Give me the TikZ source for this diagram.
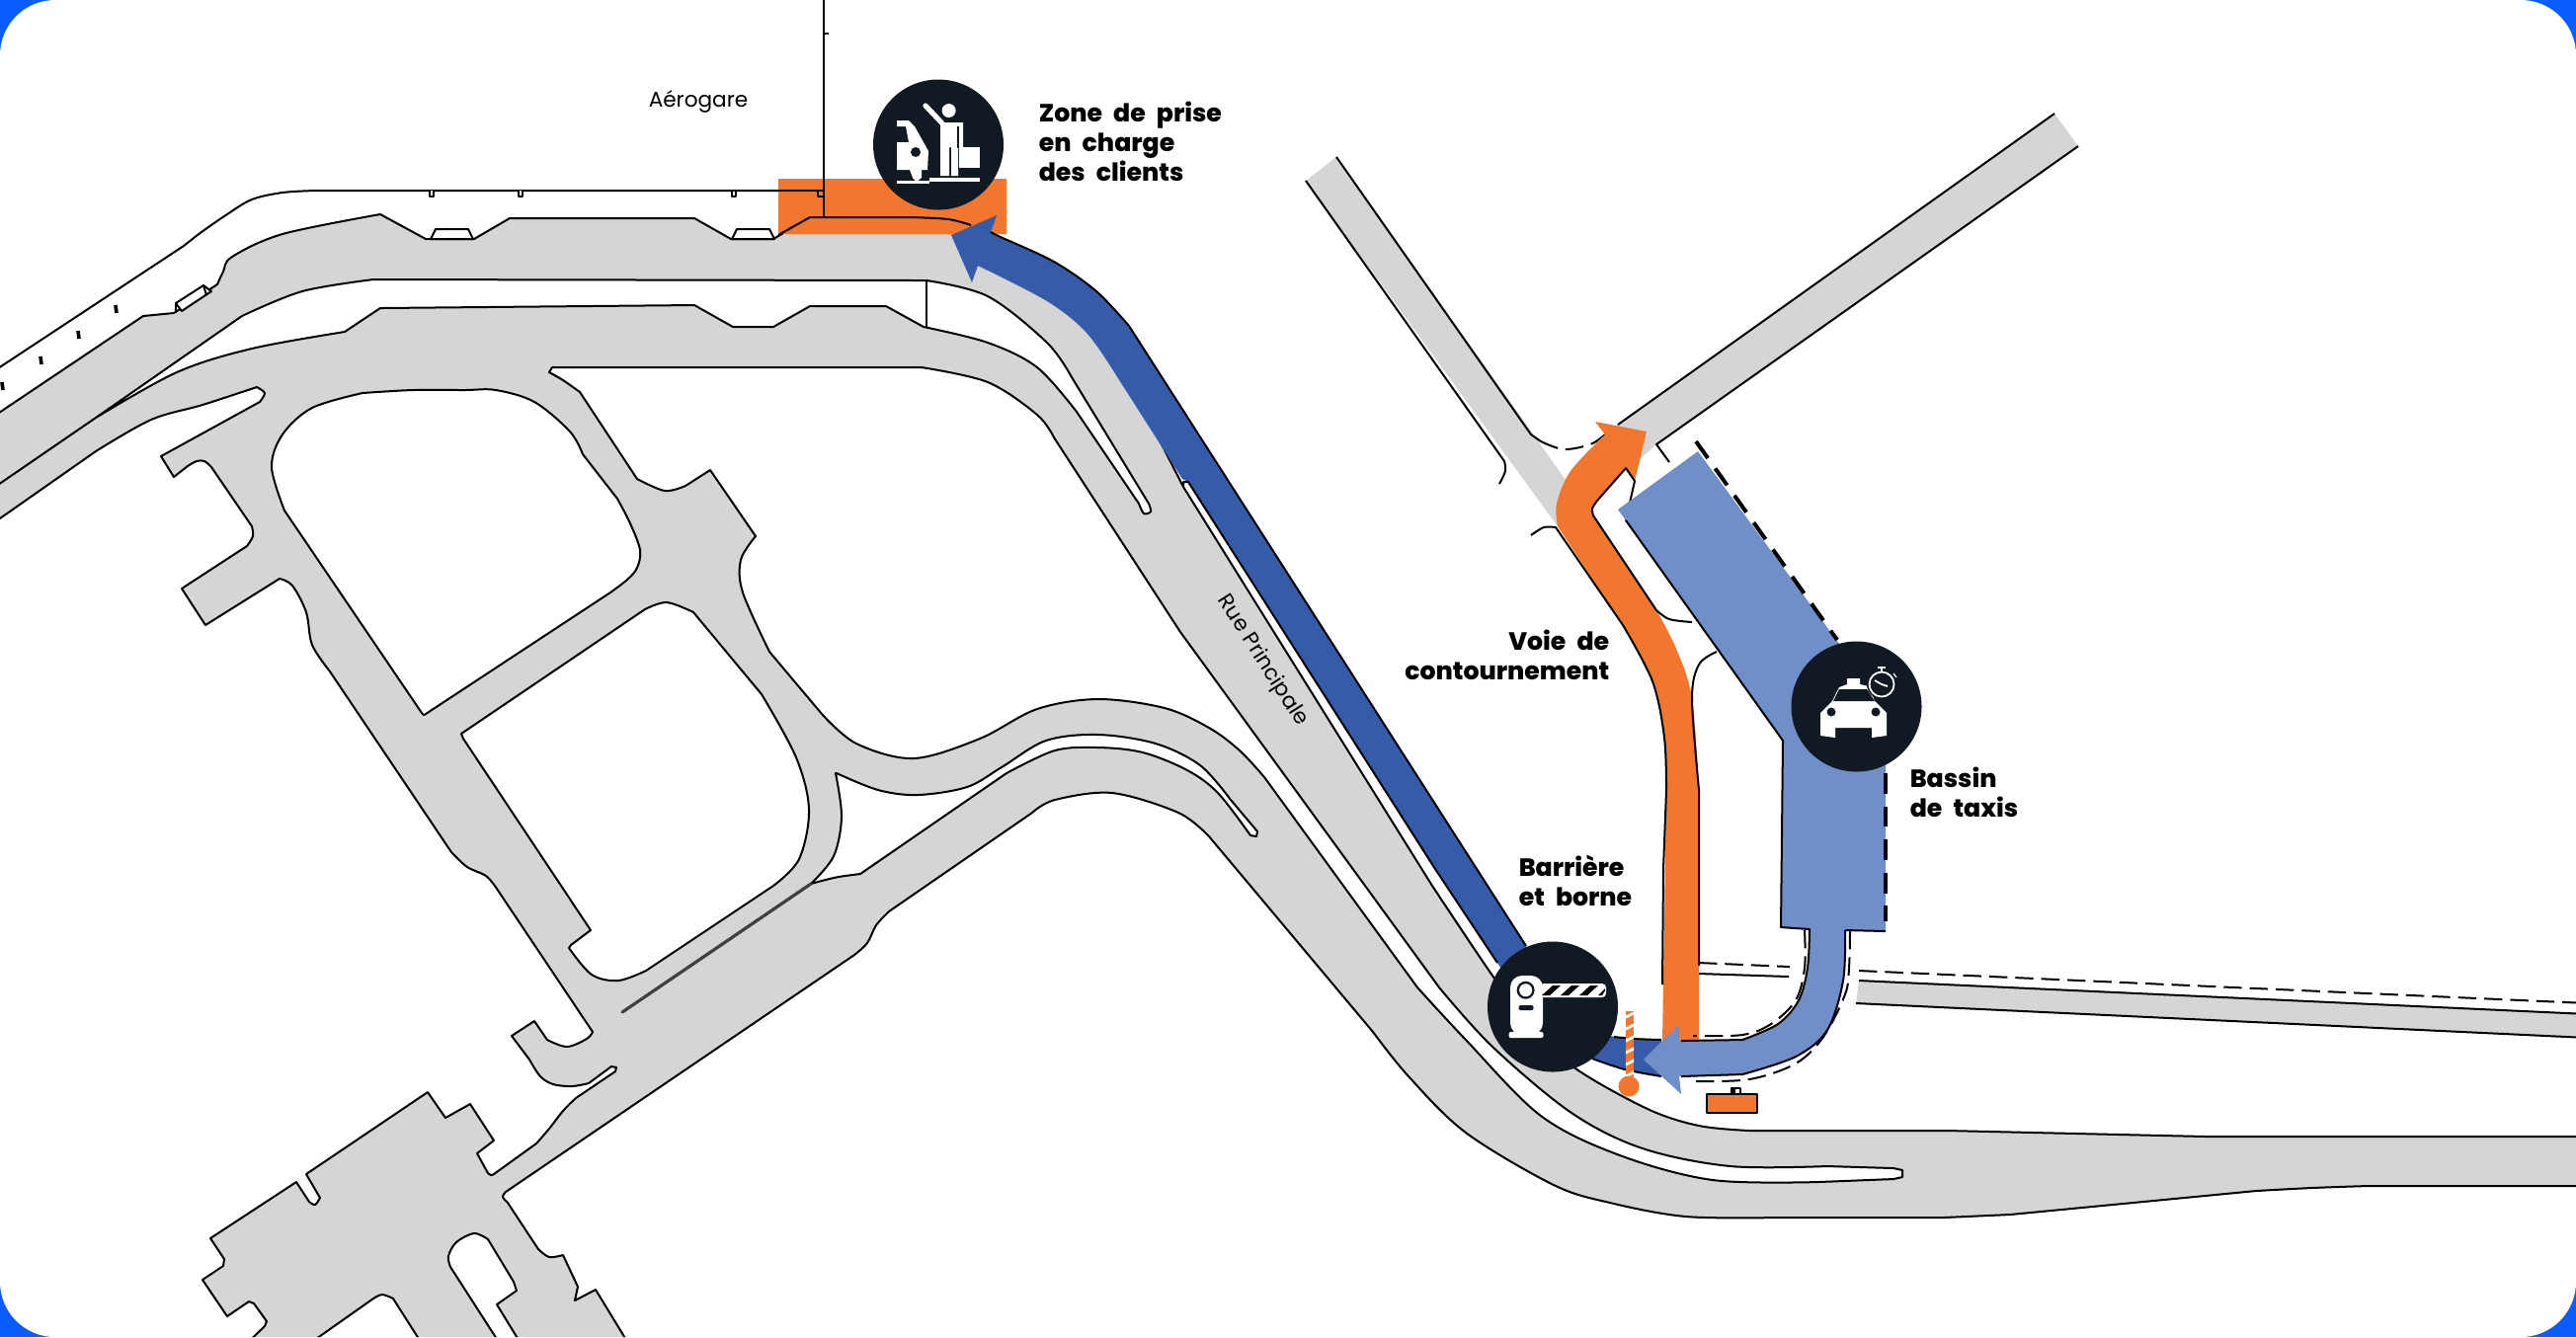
\documentclass[tikz,border=0pt]{standalone}
\usepackage{fontspec}
\setmainfont{Poppins}
\newfontfamily\capfont[WordSpace=2.3]{Poppins ExtraBold}
\definecolor{corner}{HTML}{0A5CFF}
\definecolor{roadgrey}{HTML}{D5D5D5}
\definecolor{zone}{HTML}{F2762E}
\definecolor{darkroute}{HTML}{365BA8}
\definecolor{lightroute}{HTML}{708EC8}
\definecolor{badgeblack}{HTML}{111A22}
\tikzset{
  curvy/.style={smooth,tension=.55},
  edge/.style={black,line width=.5pt,line join=round},
  road/.style={edge,fill=roadgrey},
  hole/.style={edge,fill=white},
  bigdash/.style={black,line width=1pt,dash pattern=on 5.2pt off 3.2pt},
  smalldash/.style={black,line width=.5pt,dash pattern=on 4.6pt off 2pt},
  badge/.style={circle,fill=badgeblack,minimum size=33pt,inner sep=0pt},
  place/.style={font=\fontsize{5.4}{6}\selectfont},
  caption/.style={font=\capfont\fontsize{6.3}{7.5}\selectfont,align=left,inner sep=0pt},
}
\begin{document}
\begin{tikzpicture}[x=.25pt,y=-.25pt]
\useasboundingbox (0,0) rectangle (2608,1354);
\fill[corner] (0,0) rectangle (2608,1354);
\fill[white,rounded corners=14pt] (0,0) rectangle (2608,1354);
\clip[rounded corners=14pt] (0,0) rectangle (2608,1354);

% terminal front
\draw[edge] (-5,375) -- (186,249) -- plot[curvy] coordinates {(186,249) (204,235) (230,217) (255,202) (286,195) (319,193)} -- (834,193);
\foreach \nx in {437,527,743}
\draw[edge,fill=white] (\nx-2,193) -- (\nx-2,199) -- (\nx+2,199) -- (\nx+2,193);
\foreach \mx/\my in {117/313,79/339,41/365,2/391}
\draw[black,line width=.9pt] (\mx,\my-4) -- (\mx+1,\my+4);

% road network
\filldraw[road] (-10,424) -- (145,320) -- (176,317) -- (220,288)
  -- plot[curvy] coordinates {(220,288) (226,275) (235,260) (286,237) (385,217)}
  -- (431,242) -- (480,242) -- (516,221) -- (703,221) -- (740,242) -- (783,242) -- (820,220) -- (922,220)
  -- plot[curvy] coordinates {(922,220) (960,222) (983,228) (1020,248)}
  -- (1120,340) -- (1198,493) -- (1450,897)
  -- plot[curvy] coordinates {(1450,897) (1511,988) (1550,1040) (1595,1082) (1668,1123) (1720,1140) (1771,1145)}
  -- (1972,1145) -- (2234,1151) -- (2620,1151) -- (2620,1201) -- (2397,1201)
  -- plot[curvy] coordinates {(2397,1201) (2340,1203) (2284,1206)}
  -- (2035,1230) -- (1968,1233) -- (1800,1233)
  -- plot[curvy] coordinates {(1800,1233) (1707,1232) (1630,1218) (1573,1200) (1484,1147) (1426,1090) (1390,1045)}
  -- (1224,847)
  -- plot[curvy] coordinates {(1224,847) (1193,823) (1126,803) (1068,810) (1045,823)}
  -- (900,923)
  -- plot[curvy] coordinates {(900,923) (887,937) (878,955) (865,967)}
  -- (512,1207)
  -- plot[curvy] coordinates {(512,1207) (509,1212) (514,1218)}
  -- (545,1265)
  -- plot[curvy] coordinates {(545,1265) (556,1273) (570,1271)}
  -- (585,1303) -- (582,1317) -- (603,1306) -- (642,1370) -- (533,1370) -- (503,1321) -- (523,1307) -- (520,1298) -- (494,1255)
  -- plot[curvy] coordinates {(494,1255) (480,1249) (462,1258) (454,1272) (456,1283)}
  -- (512,1370) -- (433,1370) -- (398,1315)
  -- plot[curvy] coordinates {(398,1315) (387,1311) (378,1315)}
  -- (300,1370) -- (240,1370) -- (268,1343) -- (270,1338) -- (257,1320) -- (252,1318) -- (230,1333) -- (205,1296) -- (226,1282) -- (227,1275) -- (213,1254)
  -- (300,1197) -- (313,1217)
  -- plot[curvy] coordinates {(313,1217) (319,1220) (324,1213)}
  -- (310,1189) -- (433,1106) -- (451,1132) -- (476,1118) -- (500,1155) -- (483,1168) -- (494,1188)
  -- plot[curvy] coordinates {(494,1188) (497,1190) (500,1189)}
  -- (543,1158)
  -- plot[curvy] coordinates {(543,1158) (556,1143) (570,1125) (583,1112)}
  -- (623,1085) -- (624,1081) -- (619,1080) -- (596,1097)
  -- plot[curvy] coordinates {(596,1097) (579,1100) (560,1098) (547,1090) (536,1073)}
  -- (518,1049) -- (541,1034) -- (554,1053)
  -- plot[curvy] coordinates {(554,1053) (574,1060) (594,1052) (600,1045)}
  -- (503,900)
  -- plot[curvy] coordinates {(503,900) (492,887) (473,878) (457,863)}
  -- (334,680)
  -- plot[curvy] coordinates {(334,680) (316,653) (310,620) (296,593) (283,586)}
  -- (208,633) -- (184,596) -- (250,553)
  -- plot[curvy] coordinates {(250,553) (256,543) (255,533)}
  -- (214,473)
  -- plot[curvy] coordinates {(214,473) (207,467) (199,467) (190,472)}
  -- (176,483) -- (163,462) -- (263,407)
  -- plot[curvy] coordinates {(263,407) (268,398) (260,392)}
  -- plot[curvy] coordinates {(260,392) (205,410) (153,425) (97,457)}
  -- (-10,532) -- cycle;

% channel between the two roads
\filldraw[hole] (-5,493) -- (97,423) -- (245,320)
  -- plot[curvy] coordinates {(245,320) (306,295) (378,283)}
  -- (938,284)
  -- plot[curvy] coordinates {(938,284) (1000,300) (1060,347) (1085,382)}
  -- (1163,510)
  -- plot[curvy] coordinates {(1163,510) (1165,518) (1158,520) (1153,510)}
  -- (1090,417)
  -- plot[curvy] coordinates {(1090,417) (1050,372) (1000,347) (935,331)}
  -- (897,310) -- (820,310) -- (783,331) -- (742,331) -- (703,309) -- (385,312) -- (349,336)
  -- plot[curvy] coordinates {(349,336) (255,353) (179,377) (97,423)}
  -- cycle;
\draw[edge] (938,284) -- (938,331);
\filldraw[hole] (178,307) -- (206,289) -- (214,295) -- (184,315) -- cycle;
\draw[edge] (206,289) -- (209,299);
\draw[edge] (178,307) -- (178,317);
\foreach \kx in {436,741}
\filldraw[hole] (\kx,242) -- (\kx+5,232) -- (\kx+38,232) -- (\kx+43,242) -- cycle;

% blocks
\filldraw[hole] plot[curvy] coordinates {(367,398) (418,395) (470,395) (502,395) (541,407) (577,437) (590,460)}
  -- (625,505)
  -- plot[curvy] coordinates {(625,505) (638,530) (648,557) (645,575) (635,587) (618,600)}
  -- (431,723)
  -- plot[curvy] coordinates {(431,723) (429,724) (427,722)}
  -- (288,517)
  -- plot[curvy] coordinates {(288,517) (275,473) (286,440) (316,413) (367,398)}
  -- cycle;
\filldraw[hole] (469,748) -- (467,743) -- (653,617)
  -- plot[curvy] coordinates {(653,617) (675,610) (702,620)}
  -- (771,703)
  -- plot[curvy] coordinates {(771,703) (806,767) (819,820) (809,870) (783,897)}
  -- (654,983)
  -- plot[curvy] coordinates {(654,983) (626,993) (599,987) (576,960)}
  -- (578,957) -- (598,942) -- cycle;
\filldraw[hole] plot[curvy] coordinates {(847,783) (889,800) (929,805) (979,797) (1014,777) (1059,750) (1112,744) (1170,753) (1215,775) (1246,810)}
  -- (1273,842) -- (1272,847) -- (1266,846)
  -- plot[curvy] coordinates {(1266,846) (1233,803) (1202,780) (1157,762) (1112,757) (1068,760) (1019,783)}
  -- (871,885)
  -- plot[curvy] coordinates {(871,885) (849,888) (832,892) (821,895)}
  -- plot[curvy] coordinates {(821,895) (844,867) (852,827) (846,783)}
  -- cycle;
\draw[black!75,line width=.8pt,line cap=round] (630,1025) -- (821,895);
\filldraw[hole] (559,372) -- (933,372)
  -- plot[curvy] coordinates {(933,372) (1000,387) (1050,420) (1067,443)}
  -- (1195,640) -- (1457,1000)
  -- plot[curvy] coordinates {(1457,1000) (1511,1060) (1591,1127) (1663,1163) (1752,1181) (1850,1181)}
  -- (1917,1183) -- (1926,1185) -- (1926,1192) -- (1917,1194) -- (1841,1197)
  -- plot[curvy] coordinates {(1841,1197) (1734,1195) (1640,1170) (1560,1130) (1484,1053) (1435,1000)}
  -- (1280,787)
  -- plot[curvy] coordinates {(1280,787) (1255,760) (1224,737) (1179,717) (1112,708) (1050,718) (992,748) (925,768) (867,753) (832,723)}
  -- (779,660)
  -- plot[curvy] coordinates {(779,660) (752,600) (750,567) (765,543)}
  -- (719,476) -- (694,492)
  -- plot[curvy] coordinates {(694,492) (673,497) (645,485)}
  -- (587,397)
  -- plot[curvy] coordinates {(587,397) (570,385) (556,377)}
  -- cycle;

% side streets
\fill[roadgrey] (1322,183) -- (1353,159) -- (1590,493) -- (1577,533) -- cycle;
\draw[edge] (1322,183) -- (1523,467) -- plot[curvy] coordinates {(1523,467) (1524,477) (1518,490)};
\draw[edge] (1353,159) -- (1550,440) -- (1560,447);
\fill[roadgrey] (2080,115) -- (2104,148) -- (1677,450) -- (1660,465) -- (1630,435) -- cycle;
\draw[edge] (2080,115) -- (1638,430);
\draw[edge] (2104,148) -- (1677,450) -- (1690,468);
\fill[roadgrey] (1882,993) -- (2620,1027) -- (2620,1051) -- (1879,1016) -- cycle;
\draw[edge] (1882,993) -- (2620,1027);
\draw[edge] (1879,1016) -- (2620,1051);
\draw[smalldash] (1882,983) -- (2620,1016);
\draw[smalldash] plot[curvy] coordinates {(1560,447) (1583,455) (1610,450) (1625,440)};
\draw[edge] (1720,986) -- (1811,989);
\draw[smalldash] (1720,975) -- (1812,979);

% pick-up zone
\fill[zone] (788,181) rectangle (1019,237);
\draw[edge] (788,238) -- (820,220) -- (922,220) -- plot[curvy] coordinates {(922,220) (960,222) (983,228)};
\draw[edge] (700,193) -- (834,193);
\draw[edge] (828,193) -- (828,199) -- (834,199);
\draw[edge] (834,-5) -- (834,220);
\draw[edge] (834,34) -- (839,34);

% route out to the pick-up zone
\fill[darkroute] (1003,235) -- (1009,218) -- (963,238) -- (984,286) -- (990,269)
  -- plot[curvy] coordinates {(990,269) (1060,305) (1100,337) (1130,380)}
  -- (1197,485) -- (1203,488) -- (1453,880) -- (1516,975)
  -- plot[curvy] coordinates {(1516,975) (1560,1035) (1612,1072) (1682,1090)}
  -- (1682,1053)
  -- plot[curvy] coordinates {(1682,1053) (1634,1050) (1600,1030) (1575,1005)}
  -- (1545,958) -- (1143,330)
  -- plot[curvy] coordinates {(1143,330) (1110,295) (1067,265) (1013,240)}
  -- cycle;
\draw[edge] plot[curvy] coordinates {(1003,235) (1013,240) (1067,265) (1110,295) (1143,330)} -- (1545,958);
\draw[edge] (1198,493) -- (1198,488) -- (1203,488) -- (1453,880) -- (1516,975);
\draw[edge] plot[curvy] coordinates {(1612,1072) (1645,1083) (1682,1090)};
\draw[edge] plot[curvy] coordinates {(1634,1050) (1655,1052) (1682,1053)};

% bypass lane
\fill[zone] (1683,1056) -- (1687,800)
  -- plot[curvy] coordinates {(1687,800) (1685,747) (1673,690) (1643,633)}
  -- (1577,533)
  -- plot[curvy] coordinates {(1577,533) (1576,510) (1590,477) (1625,440)}
  -- (1615,427) -- (1667,437) -- (1655,487) -- (1646,474) -- (1617,507)
  -- plot[curvy] coordinates {(1617,507) (1612,515) (1613,522)}
  -- (1677,618)
  -- plot[curvy] coordinates {(1677,618) (1697,657) (1713,707) (1720,800)}
  -- (1720,1056) -- cycle;
\draw[edge] plot[curvy] coordinates {(1550,542) (1563,534) (1575,534)} -- (1643,633)
  -- plot[curvy] coordinates {(1643,633) (1673,690) (1685,747) (1687,800)} -- (1684,880) -- (1683,997);
\draw[edge] (1646,527) -- (1655,487) -- (1646,474) -- (1617,507)
  -- plot[curvy] coordinates {(1617,507) (1612,515) (1613,522)} -- (1677,618)
  -- plot[curvy] coordinates {(1677,618) (1690,627) (1713,630)};
\draw[edge] plot[curvy] coordinates {(1738,660) (1720,673) (1713,708) (1720,800)} -- (1720,978);

% taxi pool
\fill[lightroute] (1638,516) -- (1719,457) -- (1909,716) -- (1909,942) -- (1868,942)
  -- plot[curvy] coordinates {(1868,942) (1866,993) (1850,1043) (1818,1070) (1764,1088)}
  -- (1700,1090) -- (1702,1108) -- (1664,1073) -- (1700,1037) -- (1700,1054) -- (1764,1053)
  -- plot[curvy] coordinates {(1764,1053) (1800,1037) (1821,1013) (1830,980) (1832,941)}
  -- (1803,939) -- (1805,750) -- (1646,527) -- cycle;
\draw[edge] (1646,527) -- (1805,750) -- (1803,939) -- (1832,941)
  -- plot[curvy] coordinates {(1832,941) (1830,980) (1821,1013) (1800,1037) (1764,1053)} -- (1702,1054);
\draw[edge] (1868,942) -- (1909,943);
\draw[edge] plot[curvy] coordinates {(1868,942) (1866,993) (1850,1043) (1818,1070) (1764,1088)} -- (1702,1090);
\draw[bigdash] (1717,447) -- (1860,648);
\draw[bigdash] (1909,783) -- (1909,933);
\draw[smalldash] plot[curvy] coordinates {(1873,943) (1872,980) (1868,1007) (1846,1050) (1818,1077) (1771,1093) (1714,1095)};
\draw[smalldash] plot[curvy] coordinates {(1827,942) (1827,980) (1818,1013) (1793,1037) (1764,1048) (1714,1049)};

% barrier post and booth
\begin{scope}
\clip (1646,1024) rectangle (1654,1092);
\fill[zone] (1646,1024) rectangle (1654,1092);
\foreach \sy in {1028,1040,...,1088}
\draw[white,line width=.7pt] (1644,\sy+3) -- (1656,\sy-3);
\end{scope}
\fill[zone] (1649,1100) circle (10.5);
\draw[edge,fill=zone] (1728,1108) rectangle (1779,1127);
\draw[edge,fill=white] (1753,1102) rectangle (1762,1108);
\fill[black] (1753,1102) rectangle (1757,1108);

% badges
\node[badge] (pickup) at (950,146.5) {};
\node[badge] (barrier) at (1572,1019.5) {};
\node[badge] (pool) at (1879.5,715.5) {};

% pick-up icon
\fill[white] (908,122) -- (920,122) -- (926,128) -- (940,153) -- (939,172) -- (933,172) -- (933,180) -- (928,184) -- (924,180) -- (921,172) -- (908,172) -- (908,144) -- (920,144) -- (917,128) -- (908,128) -- cycle;
\fill[badgeblack] (927,154) circle (5);
\fill[white] (908,183) rectangle (941,185.5);
\fill[white] (941,180) rectangle (992,183.5);
\fill[white] (960.6,112) circle (7);
\draw[white,line width=1.3pt,line cap=round] (937,107) -- (954,125);
\fill[white] (952,124) -- (975,124) -- (975,150) -- (970,150) -- (970,178) -- (963,178) -- (963,149) -- (961,149) -- (961,178) -- (952,178) -- cycle;
\fill[white] (971,149) rectangle (992,170);
\fill[badgeblack] (969,128) rectangle (970.5,150);

% barrier icon
\fill[white,rounded corners=3pt] (1529,1048) -- (1529,988) -- (1562,988) -- (1562,1048) -- cycle;
\fill[white,rounded corners=.5pt] (1527.5,1045) rectangle (1562.5,1051);
\fill[badgeblack] (1544.6,1002.7) circle (9);
\fill[white] (1544.6,1002.7) circle (6.5);
\fill[badgeblack,rounded corners=.5pt] (1537.5,1018) rectangle (1552.5,1023);
\fill[white,rounded corners=1pt] (1559,996) rectangle (1626,1010);
\foreach \bx in {1561,1580,1599}
\fill[black] (\bx,1008) -- (\bx+11,998) -- (\bx+19,998) -- (\bx+8,1008) -- cycle;
\fill[black] (1618,1008) -- (1625,1001) -- (1625,1003) -- (1622,1008) -- cycle;

% taxi icon
\fill[white] (1843,737) -- (1843,722) -- (1855,710) -- (1862,696) -- (1870,693) -- (1870,687) -- (1883,687) -- (1883,693) -- (1892,695) -- (1898,710) -- (1910,722) -- (1910,737) -- (1910,745) -- (1895,747) -- (1895,737) -- (1858,737) -- (1858,747) -- (1843,745) -- cycle;
\fill[badgeblack] (1856,710) -- (1862,698) -- (1890,698) -- (1898,710) -- cycle;
\fill[badgeblack] (1854,721) circle (4.5);
\fill[badgeblack] (1899,721) circle (4.5);
\fill[badgeblack] (1905,693) circle (15);
\draw[white,line width=.45pt] (1905,693) circle (12.5);
\draw[white,line width=.45pt] (1905,693) -- (1898,689);
\draw[white,line width=.45pt] (1905,693) -- (1911,695);
\draw[white,line width=.6pt] (1901,676) -- (1909,676);
\draw[white,line width=.4pt] (1905,676) -- (1905,680);
\draw[white,line width=.3pt] (1917,682) -- (1920,686);

% labels
\node[place] (terminal) at (707,103) {Aérogare};
\node[place,rotate=-57.5] (mainroad) at (1278,669) {Rue Principale};
\node[caption,anchor=west] (pickuptext) at (1051,143) {Zone de prise\\en charge\\des clients};
\node[caption,anchor=east,align=right] (bypasstext) at (1630,663) {Voie de\\contournement};
\node[caption,anchor=west] (barriertext) at (1537,892) {Barrière\\et borne};
\node[caption,anchor=west] (pooltext) at (1933,802) {Bassin\\de taxis};
\end{tikzpicture}
\end{document}
